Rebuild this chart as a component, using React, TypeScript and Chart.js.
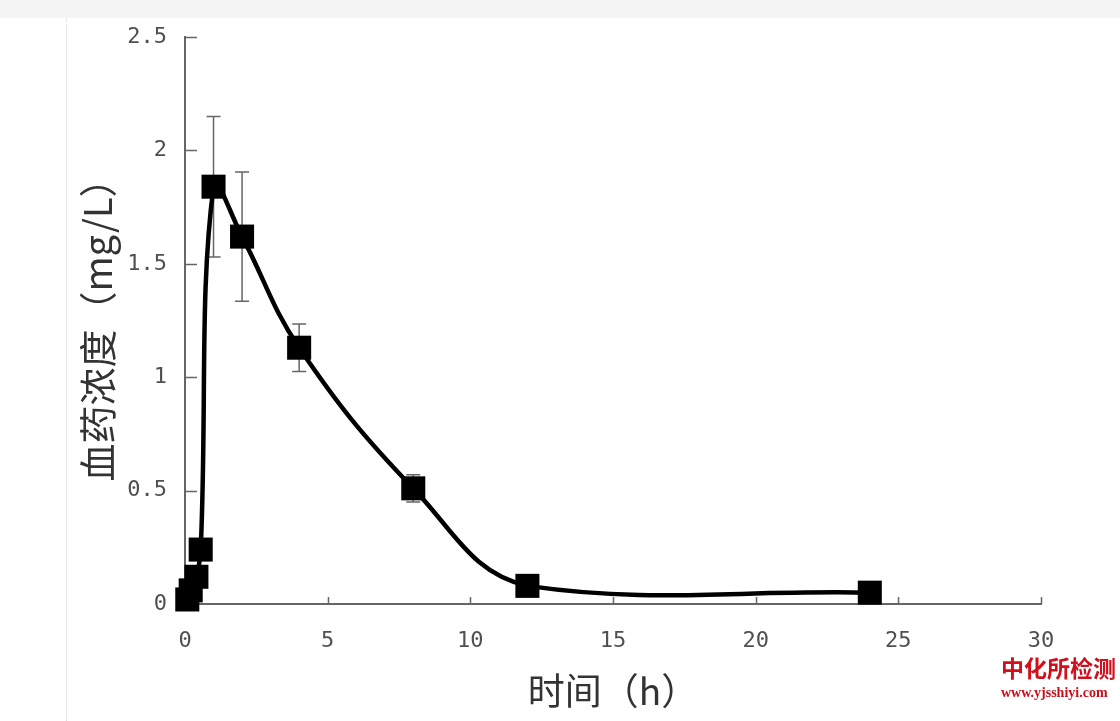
import React, { useEffect, useRef } from "react";
import { Chart, registerables } from "chart.js";

Chart.register(...registerables);

// ---- data ----
const timesH = [0.08, 0.2, 0.4, 0.55, 1, 2, 4, 8, 12, 24];
const concentration = [0.02, 0.06, 0.12, 0.24, 1.84, 1.62, 1.13, 0.51, 0.08, 0.05];
const errorSD = [0, 0, 0, 0, 0.31, 0.285, 0.105, 0.06, 0.01, 0.01];
const xTickValues = [0, 5, 10, 15, 20, 25, 30];
const yTickValues = [0, 0.5, 1, 1.5, 2, 2.5];
const xTitle = "时间（h）";
const yTitle = "血药浓度（mg/L）";
const watermarkCN = "中化所检测";
const watermarkURL = "www.yjsshiyi.com";

const AXIS_COLOR = "#666";

const errorBarPlugin = {
  id: "errorBars",
  beforeDatasetsDraw(chart: any) {
    const { ctx, scales } = chart;
    const x = scales.x;
    const y = scales.y;
    ctx.save();
    ctx.strokeStyle = "#666";
    ctx.lineWidth = 1.5;
    timesH.forEach((t, i) => {
      const e = errorSD[i];
      if (!e) return;
      const px = x.getPixelForValue(t);
      const top = y.getPixelForValue(concentration[i] + e);
      const bot = y.getPixelForValue(concentration[i] - e);
      ctx.beginPath();
      ctx.moveTo(px, top);
      ctx.lineTo(px, bot);
      ctx.moveTo(px - 7, top);
      ctx.lineTo(px + 7, top);
      ctx.moveTo(px - 7, bot);
      ctx.lineTo(px + 7, bot);
      ctx.stroke();
    });
    ctx.restore();
  },
};

const innerTicksPlugin = {
  id: "innerTicks",
  beforeDatasetsDraw(chart: any) {
    const { ctx, scales } = chart;
    const x = scales.x;
    const y = scales.y;
    ctx.save();
    ctx.strokeStyle = AXIS_COLOR;
    ctx.lineWidth = 1.5;
    ctx.beginPath();
    x.ticks.forEach((tk: any) => {
      const px = Math.round(x.getPixelForValue(tk.value)) + 0.5;
      ctx.moveTo(px, x.top);
      ctx.lineTo(px, x.top - 7);
    });
    y.ticks.forEach((tk: any) => {
      const py = Math.round(y.getPixelForValue(tk.value)) + 0.5;
      ctx.moveTo(y.right, py);
      ctx.lineTo(y.right + 12, py);
    });
    ctx.stroke();
    ctx.restore();
  },
};

export default function App() {
  const canvasRef = useRef<HTMLCanvasElement | null>(null);

  useEffect(() => {
    if (!canvasRef.current) return;
    const chart = new Chart(canvasRef.current, {
      type: "line",
      data: {
        datasets: [
          {
            data: timesH.map((t, i) => ({ x: t, y: concentration[i] })),
            borderColor: "#000",
            borderWidth: 4.5,
            backgroundColor: "#000",
            pointStyle: "rect",
            pointRadius: 17,
            pointHoverRadius: 17,
            pointBorderWidth: 0,
            pointBackgroundColor: "#000",
            tension: 0.4,
            clip: false as any,
          },
        ],
      },
      options: {
        animation: false,
        responsive: false,
        events: [],
        layout: { padding: { left: 0, top: 37, right: 79, bottom: 0 } },
        plugins: {
          legend: { display: false },
          tooltip: { enabled: false },
        },
        scales: {
          x: {
            type: "linear",
            min: 0,
            max: 30,
            afterFit: (s: any) => {
              s.height = 117;
            },
            afterBuildTicks: (s: any) => {
              s.ticks = xTickValues.map((v) => ({ value: v }));
            },
            grid: { display: true, drawOnChartArea: false, drawTicks: false },
            border: { display: true, color: AXIS_COLOR, width: 2 },
            ticks: {
              padding: 24,
              color: "#505050",
              font: { family: '"DejaVu Sans Mono", monospace', size: 22 },
              callback: (v: any) => String(v),
            },
            title: {
              display: true,
              text: xTitle,
              color: "#333",
              font: { family: '"Noto Sans CJK SC", sans-serif', size: 37 },
              padding: { top: 0, bottom: 8 },
            },
          },
          y: {
            type: "linear",
            min: 0,
            max: 2.5,
            afterFit: (s: any) => {
              s.width = 185;
            },
            afterBuildTicks: (s: any) => {
              s.ticks = yTickValues.map((v) => ({ value: v }));
            },
            grid: { display: true, drawOnChartArea: false, drawTicks: false },
            border: { display: true, color: AXIS_COLOR, width: 2 },
            ticks: {
              padding: 18,
              color: "#505050",
              font: { family: '"DejaVu Sans Mono", monospace', size: 22 },
              callback: (v: any) => String(v),
            },
            title: {
              display: true,
              text: yTitle,
              color: "#333",
              font: { family: '"Noto Sans CJK SC", sans-serif', size: 38 },
              padding: { top: 75, bottom: 0 },
            },
          },
        },
      },
      plugins: [errorBarPlugin, innerTicksPlugin],
    });
    return () => chart.destroy();
  }, []);

  return (
    <div
      style={{
        position: "fixed",
        left: 0,
        top: 0,
        width: 1120,
        height: 721,
        background: "#fff",
        overflow: "hidden",
      }}
    >
      <div
        style={{
          position: "absolute",
          left: 0,
          top: 0,
          width: 1120,
          height: 18,
          background: "#f4f4f4",
        }}
      />
      <div
        style={{
          position: "absolute",
          left: 66,
          top: 18,
          width: 0,
          height: 703,
          borderLeft: "1px dotted #d8d8d8",
        }}
      />
      <canvas
        ref={canvasRef}
        width={1120}
        height={721}
        style={{ position: "absolute", left: 0, top: 0, width: 1120, height: 721 }}
      />
      <div
        style={{
          position: "absolute",
          left: 1001,
          top: 652,
          whiteSpace: "nowrap",
          color: "#d0101c",
          fontFamily: '"Noto Sans CJK SC", sans-serif',
          fontWeight: 700,
          fontSize: 23,
          lineHeight: "30px",
        }}
      >
        {watermarkCN}
      </div>
      <div
        style={{
          position: "absolute",
          left: 1001,
          top: 684,
          whiteSpace: "nowrap",
          color: "#c8101c",
          fontFamily: '"Liberation Serif", serif',
          fontWeight: 700,
          fontSize: 14,
          lineHeight: "18px",
        }}
      >
        {watermarkURL}
      </div>
    </div>
  );
}
